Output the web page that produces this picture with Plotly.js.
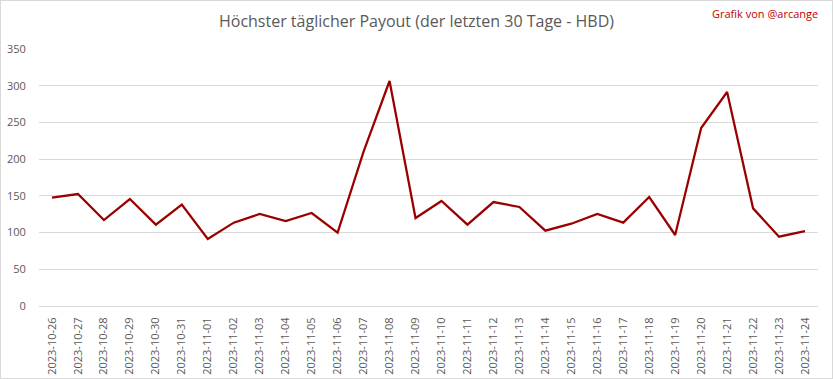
<!DOCTYPE html>
<html><head><meta charset="utf-8">
<script src="https://cdn.plot.ly/plotly-3.0.1.min.js"></script>
<style>html,body{margin:0;padding:0;background:#fff}#c{width:833px;height:379px;box-sizing:border-box;border:1px solid #d9d9d9}</style>
</head><body><div id="c"></div>
<script>
const dates = ["2023-10-26","2023-10-27","2023-10-28","2023-10-29","2023-10-30","2023-10-31","2023-11-01","2023-11-02","2023-11-03","2023-11-04","2023-11-05","2023-11-06","2023-11-07","2023-11-08","2023-11-09","2023-11-10","2023-11-11","2023-11-12","2023-11-13","2023-11-14","2023-11-15","2023-11-16","2023-11-17","2023-11-18","2023-11-19","2023-11-20","2023-11-21","2023-11-22","2023-11-23","2023-11-24"];
const payout = [147.5,152.5,117,145.7,110.8,138,91.2,113.5,125.3,115.7,126.6,99.9,210.2,306.4,119.8,143,110.8,141.6,134.8,102.6,112.1,125.3,113.5,148.4,96.7,242.4,291.4,133,94.4,102.1];
const yTicks = [0,50,100,150,200,250,300,350];
const titleText = "Höchster täglicher Payout (der letzten 30 Tage - HBD)";
const creditText = "Grafik von @arcange";

Plotly.newPlot('c', [{
  x: dates, y: payout, type: 'scatter', mode: 'lines',
  line: {color: '#9b0000', width: 2.25}, hoverinfo: 'x+y'
}], {
  width: 831, height: 377,
  margin: {l: 38, r: 14, t: 48, b: 72, pad: 0},
  paper_bgcolor: '#fff', plot_bgcolor: '#fff',
  showlegend: false,
  font: {family: 'Open Sans, sans-serif', color: '#595959', size: 11},
  title: {text: titleText, x: 0.5, xanchor: 'center', y: 0.945, yanchor: 'middle',
          font: {family: 'Open Sans, sans-serif', size: 16, color: '#595959'}},
  xaxis: {type: 'category', tickangle: -90, showgrid: false, zeroline: false,
          showline: false, ticks: 'outside', ticklen: 6, tickcolor: 'rgba(0,0,0,0)',
          tickfont: {size: 11, color: '#595959'}, range: [-0.5, dates.length - 0.5]},
  yaxis: {range: [0, 350], tickvals: yTicks, ticktext: yTicks.map(String),
          showgrid: true, gridcolor: '#d9d9d9', gridwidth: 1, zeroline: true,
          zerolinecolor: '#d9d9d9', zerolinewidth: 1, showline: false,
          ticks: 'outside', ticklen: 10, tickcolor: 'rgba(0,0,0,0)',
          tickfont: {size: 11, color: '#595959'}},
  annotations: [{text: creditText, xref: 'paper', yref: 'paper', x: 1.0, y: 1.0,
                 xanchor: 'right', yanchor: 'bottom', yshift: 26, xshift: 2, showarrow: false,
                 font: {size: 11, color: '#c00000', family: 'Open Sans, sans-serif'}}]
}, {displayModeBar: false});
</script></body></html>
